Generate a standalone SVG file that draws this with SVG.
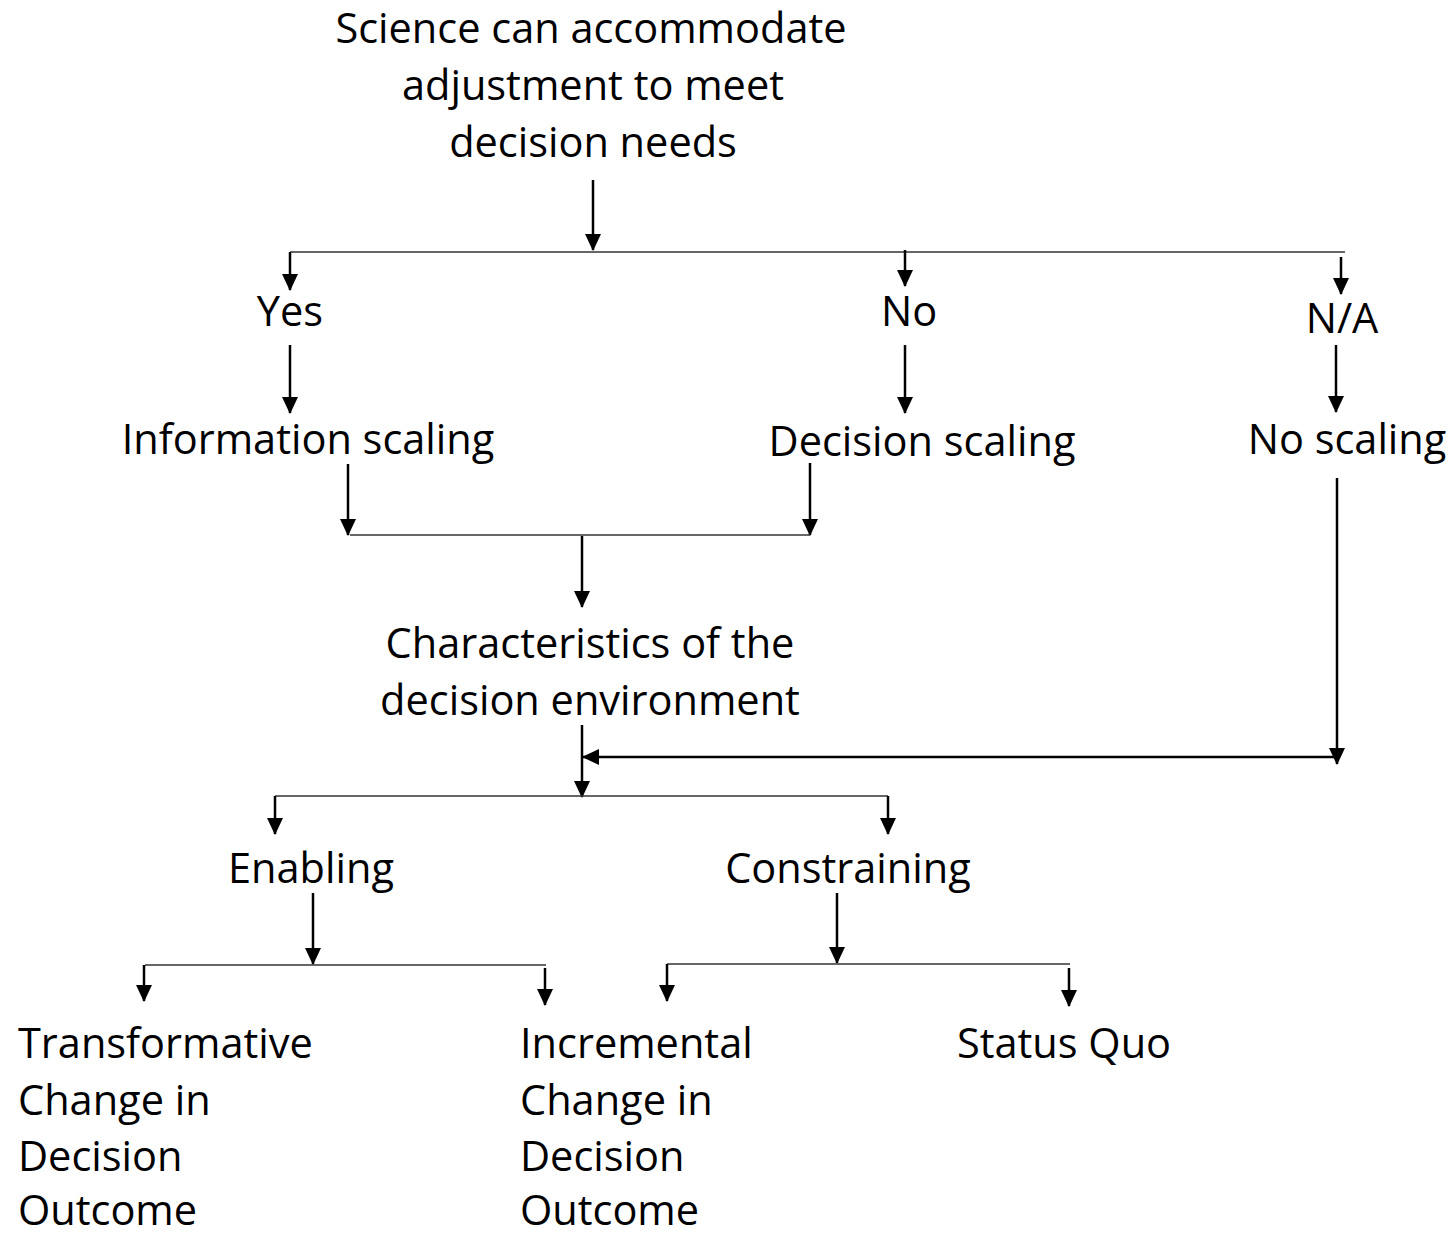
<svg xmlns="http://www.w3.org/2000/svg" width="1455" height="1235" viewBox="0 0 1455 1235">
<style>
text{font-family:"Open Sans","Noto Sans","Liberation Sans",sans-serif;font-size:41.5px;fill:#000}
.c text{text-anchor:middle}
.hl{stroke:#333;stroke-width:1.5;fill:none}
.ar{stroke:#000;stroke-width:2.5;fill:none;marker-end:url(#ah)}
</style>
<defs>
<marker id="ah" markerUnits="userSpaceOnUse" markerWidth="17" markerHeight="16" viewBox="0 0 17 16" refX="16" refY="8" orient="auto">
<path d="M0,0 L17,8 L0,16 z" fill="#000"/>
</marker>
</defs>
<g id="n-root" class="c"><text x="591" y="43">Science can accommodate</text><text x="593" y="100">adjustment to meet</text><text x="593" y="157">decision needs</text></g>
<g id="n-yes" class="c"><text x="290" y="326">Yes</text></g>
<g id="n-no" class="c"><text x="909" y="326">No</text></g>
<g id="n-na" class="c"><text x="1342" y="333">N/A</text></g>
<g id="n-info" class="c"><text x="308" y="454">Information scaling</text></g>
<g id="n-dec" class="c"><text x="922" y="456">Decision scaling</text></g>
<g id="n-nos" class="c"><text x="1347" y="454">No scaling</text></g>
<g id="n-char" class="c"><text x="590" y="658">Characteristics of the</text><text x="590" y="715">decision environment</text></g>
<g id="n-en" class="c"><text x="311" y="883">Enabling</text></g>
<g id="n-con" class="c"><text x="848" y="883">Constraining</text></g>
<g id="n-trans"><text x="18" y="1058">Transformative</text><text x="18" y="1115">Change in</text><text x="18" y="1171">Decision</text><text x="18" y="1225">Outcome</text></g>
<g id="n-inc"><text x="520" y="1058">Incremental</text><text x="520" y="1115">Change in</text><text x="520" y="1171">Decision</text><text x="520" y="1225">Outcome</text></g>
<g id="n-sq" class="c"><text x="1064" y="1058">Status Quo</text></g>
<g id="connectors">
<path class="ar" d="M593,180 V250"/>
<path class="hl" d="M290,252 H1345"/>
<path class="ar" d="M290,252 V290"/>
<path class="ar" d="M905,250 V286"/>
<path class="ar" d="M1341,257 V294"/>
<path class="ar" d="M290,345 V413"/>
<path class="ar" d="M905,345 V413"/>
<path class="ar" d="M1336,345 V412"/>
<path class="ar" d="M348,464 V535"/>
<path class="ar" d="M810,463 V535"/>
<path class="hl" d="M350,535 H810"/>
<path class="ar" d="M582,536 V607"/>
<path class="ar" d="M1337,478 V764"/>
<path class="ar" d="M1337,757 H583"/>
<path class="ar" d="M582,725 V797"/>
<path class="hl" d="M275,796 H888"/>
<path class="ar" d="M275,796 V834"/>
<path class="ar" d="M888,796 V834"/>
<path class="ar" d="M313,893 V964"/>
<path class="hl" d="M145,965 H546"/>
<path class="ar" d="M144,965 V1001"/>
<path class="ar" d="M545,968 V1005"/>
<path class="ar" d="M837,893 V963"/>
<path class="hl" d="M667,964 H1070"/>
<path class="ar" d="M667,964 V1001"/>
<path class="ar" d="M1069,968 V1006"/>
</g>
</svg>
